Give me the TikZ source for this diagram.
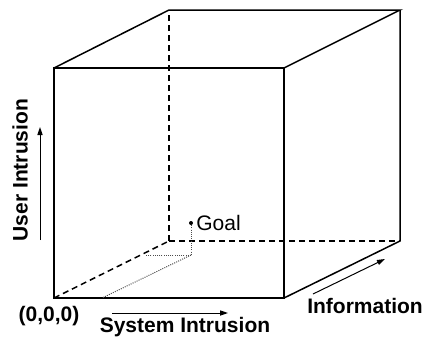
\documentclass[tikz,border=0pt]{standalone}
\usepackage{fontspec}
\setmainfont{Liberation Sans}
\usetikzlibrary{arrows.meta}

\begin{document}
\begin{tikzpicture}[
    x = 0.5pt, y = -0.5pt,
    edge/.style = {line width=0.75pt, line join=miter},
    hidden/.style = {edge, dash pattern=on 3pt off 2pt},
    trace/.style = {line width=0.5pt, dash pattern=on 0.5pt off 0.6pt, black!70},
    axis_arrow/.style = {line width=0.5pt, -{Triangle[length=4pt,width=2.6pt]}},
    axis_label/.style = {font=\fontsize{10.5}{12}\selectfont\bfseries, inner sep=0pt},
    goal_label/.style = {font=\fontsize{10.5}{12}\selectfont, inner sep=0pt}
]
\useasboundingbox (0,0) rectangle (429,339);

% Front face
\coordinate (o) at (54,298);
\coordinate (fbr) at (284,298);
\coordinate (ftr) at (284,68);
\coordinate (ftl) at (54,68);

% Back face
\coordinate (bbl) at (169,241);
\coordinate (bbr) at (400,241);
\coordinate (btr) at (400,10);
\coordinate (btl) at (169,10);

% Goal and its projections
\coordinate (goal) at (191,223);
\coordinate (foot) at (191,255);
\coordinate (side) at (146,255);
\coordinate (base) at (102,298);

% Axis arrow ends
\coordinate (u1) at (40,240);
\coordinate (u2) at (40,127);
\coordinate (s1) at (112,313);
\coordinate (s2) at (228,313);
\coordinate (i1) at (313,294);
\coordinate (i2) at (385,259);

% Visible edges
\draw [edge] (o) -- (fbr) -- (ftr) -- (ftl) -- cycle;
\draw [edge] (ftl) -- (btl) -- (btr) -- (ftr);
\draw [edge] (btr) -- (bbr) -- (fbr);

% Hidden edges
\draw [hidden] (o) -- (bbl);
\draw [hidden] (bbl) -- (bbr);
\draw [hidden] (bbl) -- (btl);

% Goal
\draw [trace] (goal) -- (foot);
\draw [trace] (foot) -- (side);
\draw [trace] (foot) -- (base);
\fill (goal) circle (1pt);
\node [goal_label, anchor=west] (goal_txt) at (196,223) {Goal};

% Axes
\draw [axis_arrow] (u1) -- (u2);
\draw [axis_arrow] (s1) -- (s2);
\draw [axis_arrow] (i1) -- (i2);

\node [axis_label, rotate=90] (user) at (20,170) {User Intrusion};
\node [axis_label] (origin) at (49,316) {(0,0,0)};
\node [axis_label] (system) at (185,327) {System Intrusion};
\node [axis_label] (info) at (365,306) {Information};

\end{tikzpicture}
\end{document}
